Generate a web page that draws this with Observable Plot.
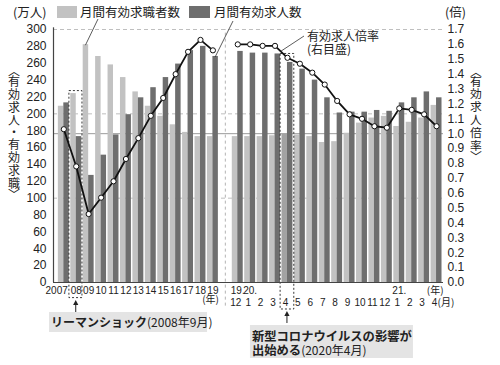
<!DOCTYPE html>
<html><head><meta charset="utf-8">
<script src="https://cdn.jsdelivr.net/npm/d3@7"></script>
<script src="https://cdn.jsdelivr.net/npm/@observablehq/plot@0.6"></script>
<style>
body{margin:0;background:#fff;}
#chart svg{display:block;}
</style></head><body><div id="chart"></div>
<script>
// ---- data ----
const years = ["2007","08","09","10","11","12","13","14","15","16","17","18","19"];
const seekersAnnual  = [209, 224, 282, 268, 258, 243, 226, 209, 197, 187, 178, 173, 173];
const openingsAnnual = [213, 173, 127, 151, 175, 199, 219, 231, 243, 259, 275, 280, 268];
const ratioAnnual    = [1.03, 0.78, 0.46, 0.57, 0.68, 0.83, 0.97, 1.12, 1.24, 1.40, 1.55, 1.63, 1.56];

const months = ["12","1","2","3","4","5","6","7","8","9","10","11","12","1","2","3","4"];
const seekersMonthly  = [173, 173, 173, 174, 176, 175, 173, 166, 167, 177, 189, 195, 197, 185, 190, 195, 210];
const openingsMonthly = [274, 272, 272, 271, 261, 253, 240, 219, 201, 202, 202, 204, 203, 213, 219, 226, 219];
const ratioMonthly    = [1.60, 1.60, 1.59, 1.59, 1.51, 1.47, 1.41, 1.33, 1.22, 1.13, 1.10, 1.05, 1.04, 1.17, 1.16, 1.13, 1.05];
const monthYearLabels = [{m:0, t:"19."},{m:1, t:"20."},{m:13, t:"21."}];

const leftTicks = d3.range(0, 301, 20);
const rightTicks = d3.range(0, 18).map(d => d / 10);

// ---- tables ----
const K = 300 / 1.7;      // right axis (倍) -> left axis (万人)
const GAP = 13;           // empty slot between annual and monthly
const annualRows = years.map((label, i) => ({i, label, seekers: seekersAnnual[i], openings: openingsAnnual[i], ratio: ratioAnnual[i], seg: "a"}));
const monthlyRows = months.map((label, j) => ({i: GAP + 1 + j, label, seekers: seekersMonthly[j], openings: openingsMonthly[j], ratio: ratioMonthly[j], seg: "m"}));
const rows = annualRows.concat(monthlyRows);
const LEHMAN = 1, COVID = GAP + 1 + 4;
const xDomain = [-0.83, 30.56];

const NUM = "'Liberation Sans', Arial, sans-serif";
const JP = "'Noto Sans CJK JP', 'Noto Sans', sans-serif";
const LIGHT = "#c2c2c2", DARK = "#6e6e6e";

const chart = Plot.plot({
  width: 500, height: 365,
  marginTop: 29, marginBottom: 83, marginLeft: 53, marginRight: 57,
  style: {fontFamily: NUM, fontSize: "12px", color: "#222", background: "#fff"},
  x: {type: "linear", domain: xDomain, axis: null},
  y: {domain: [0, 300], axis: null},
  marks: [
    Plot.ruleY([100, 200, 300], {stroke: "#b8b8b8", strokeDasharray: "4,3", strokeWidth: 0.9}),
    Plot.ruleY([K], {stroke: "#9a9a9a", strokeWidth: 1}),
    Plot.ruleX([GAP], {y1: -28, y2: 300, stroke: "#aaa", strokeDasharray: "3,3", strokeWidth: 0.9}),
    Plot.rectY(rows, {x1: d => d.i - 0.44, x2: d => d.i, y1: 0, y2: "seekers", fill: d => d.i === COVID ? "#a2a2a2" : LIGHT}),
    Plot.rectY(rows, {x1: d => d.i, x2: d => d.i + 0.44, y1: 0, y2: "openings", fill: DARK}),
    // highlight boxes
    Plot.rect([annualRows[LEHMAN]], {x1: d => d.i - 0.55, x2: d => d.i + 0.5, y1: -18.5, y2: d => d.seekers + 3, fill: "none", stroke: "#222", strokeDasharray: "2,2", strokeWidth: 0.9}),
    Plot.rect([rows.find(d => d.i === COVID)], {x1: d => d.i - 0.55, x2: d => d.i + 0.55, y1: -32, y2: d => d.ratio * K + 4.5, fill: "none", stroke: "#222", strokeDasharray: "2,2", strokeWidth: 0.9}),
    Plot.ruleY([0], {stroke: "#444", strokeWidth: 1.2}),
    Plot.ruleX([xDomain[0]], {y1: 0, y2: 302, stroke: "#444", strokeWidth: 1.2}),
    // ratio line
    Plot.line(rows, {x: "i", y: d => d.ratio * K, z: "seg", stroke: "#111", strokeWidth: 1.8}),
    Plot.dot(rows, {x: "i", y: d => d.ratio * K, r: 2.6, fill: "white", stroke: "#111", strokeWidth: 1}),
    // axes
    Plot.axisY({ticks: leftTicks, tickSize: 0, tickPadding: 7, fontSize: 12}),
    Plot.axisY({anchor: "right", ticks: rightTicks.map(r => r * K), tickFormat: v => (v / K).toFixed(1), tickSize: 0, tickPadding: 4, fontSize: 12}),
    // bottom labels
    Plot.text(annualRows.slice(0, 1), {x: "i", y: 0, text: "label", dy: 8, dx: 4, textAnchor: "end", fontSize: 10}),
    Plot.text(annualRows.slice(1), {x: "i", y: 0, text: "label", dy: 8, fontSize: 10}),
    Plot.text([annualRows[annualRows.length - 1]], {x: "i", y: 0, text: () => "(年)", dy: 17, dx: 6, textAnchor: "end", fontSize: 10, fontFamily: JP}),
    Plot.text(monthYearLabels, {x: d => GAP + 1 + d.m, y: 0, text: "t", dy: 8, fontSize: 10}),
    Plot.text([monthlyRows[monthlyRows.length - 1]], {x: "i", y: 0, text: () => "(年)", dy: 8, dx: 7, textAnchor: "end", fontSize: 10, fontFamily: JP}),
    Plot.text(monthlyRows, {x: "i", y: 0, text: "label", dy: 20, dx: -2, fontSize: 10}),
    Plot.text([monthlyRows[monthlyRows.length - 1]], {x: "i", y: 0, text: () => "(月)", dy: 20, dx: 1, textAnchor: "start", fontSize: 10, fontFamily: JP})
  ]
});

document.getElementById("chart").appendChild(chart);

// ---- annotations ----
const sx = chart.scale("x"), sy = chart.scale("y");
const X = v => sx.apply(v), Y = v => sy.apply(v);
const svg = d3.select(chart);
const g = svg.append("g").attr("font-family", JP).attr("fill", "#222").attr("text-anchor", "start");

function txt(x, y, s, size, opts = {}) {
  const t = g.append("text").attr("x", x).attr("y", y).attr("font-size", size).text(s);
  if (opts.anchor) t.attr("text-anchor", opts.anchor);
  if (opts.weight) t.attr("font-weight", opts.weight);
  return t;
}
// units
txt(13, 17, "(万人)", 12.5);
txt(445, 17, "(倍)", 12.5);
// legend
g.append("rect").attr("x", 57).attr("y", 6).attr("width", 20).attr("height", 12).attr("fill", LIGHT);
txt(80, 17, "月間有効求職者数", 12.5);
g.append("rect").attr("x", 189).attr("y", 6).attr("width", 21).attr("height", 12).attr("fill", DARK);
txt(214, 17, "月間有効求人数", 12.5);
// leader lines
const lead = (x1, y1, x2, y2) => g.append("line").attr("x1", x1).attr("y1", y1).attr("x2", x2).attr("y2", y2).attr("stroke", "#333").attr("stroke-width", 0.8);
lead(98, 19, X(2 - 0.22), Y(seekersAnnual[2]) + 1);
lead(233, 21, X(12 + 0.22), Y(openingsAnnual[12]) + 1);
lead(304, 36, X(GAP + 4.5), Y(K * (ratioMonthly[3] + ratioMonthly[4]) / 2));
txt(307, 41, "有効求人倍率", 12);
txt(307, 54, "(右目盛)", 12);

// vertical axis titles
function vtext(x, chars, ys, size) {
  chars.forEach((c, k) => g.append("text").attr("x", x).attr("y", ys[k]).attr("font-size", size)
    .attr("text-anchor", "middle").attr("dominant-baseline", "central").text(c));
}
vtext(14, ["︿","有","効","求","人","・","有","効","求","職","﹀"], [70,80,93,106,119,131,143,156,169,182,193], 12);
vtext(476, ["︿","有","効","求","人","倍","率","﹀"], [70,80,92,105,118,131,144,155], 11.8);

// arrows
function arrow(x, yTop, yBot) {
  g.append("line").attr("x1", x).attr("y1", yBot).attr("x2", x).attr("y2", yTop + 4).attr("stroke", "#222").attr("stroke-width", 1);
  g.append("path").attr("d", `M${x},${yTop} L${x - 2.6},${yTop + 5} L${x + 2.6},${yTop + 5} Z`).attr("fill", "#222");
}
const y0 = Y(0);
arrow(X(LEHMAN), y0 + 18, y0 + 31);
arrow(X(COVID), y0 + 29, y0 + 41);

// Lehman box
g.append("rect").attr("x", X(-1.15)).attr("y", y0 + 30).attr("width", X(11.57) - X(-1.15)).attr("height", 20).attr("fill", "#e4e4e4");
const t1 = g.append("text").attr("x", X(-1.15) + 2).attr("y", y0 + 45);
t1.append("tspan").attr("font-size", 12).attr("font-weight", "bold").text("リーマンショック");
t1.append("tspan").attr("font-size", 12).text("(2008年9月)");
// Covid box
const bx = X(COVID) - 37;
g.append("rect").attr("x", bx).attr("y", y0 + 43).attr("width", 163).attr("height", 33).attr("fill", "#e4e4e4");
txt(bx + 2, y0 + 59, "新型コロナウイルスの影響が", 12.3, {weight: "bold"});
const t2 = g.append("text").attr("x", bx + 2).attr("y", y0 + 72.5);
t2.append("tspan").attr("font-size", 12.3).attr("font-weight", "bold").text("出始める");
t2.append("tspan").attr("font-size", 12).text("(2020年4月)");
</script></body></html>
